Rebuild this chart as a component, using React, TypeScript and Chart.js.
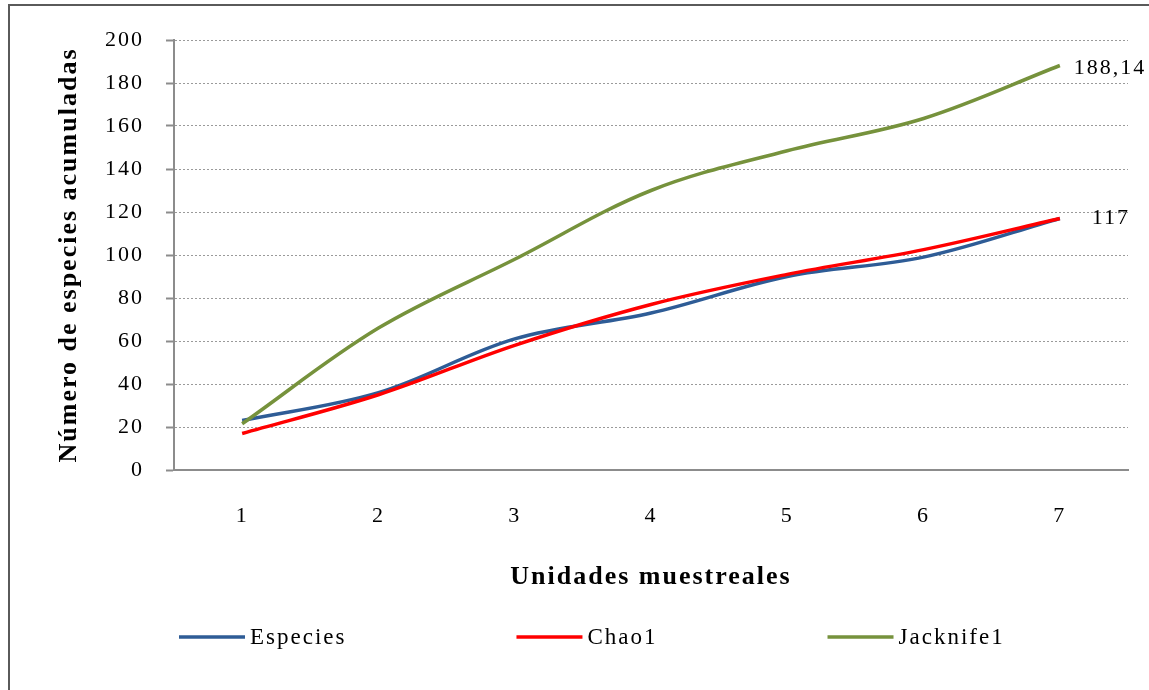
import React, { useEffect, useRef } from "react";
import { Chart, registerables } from "chart.js";

Chart.register(...registerables);

// ---- data ----
const categories = ["1", "2", "3", "4", "5", "6", "7"];
const especies = [23, 36, 61, 73, 90, 99, 117];
const chao1 = [17, 35, 58, 77, 91, 102.5, 117];
const jacknife1 = [21.5, 66, 98, 130, 148.5, 163.5, 188.14];
const seriesNames = ["Especies", "Chao1", "Jacknife1"];
const showEndLabel = [false, true, true];
const yMin = 0;
const yMax = 200;
const yStep = 20;
const xTitle = "Unidades muestreales";
const yTitle = "Número de especies acumuladas";

const FONT = "'Liberation Serif', 'Times New Roman', serif";
const COLORS = ["#2E5C96", "#FF0000", "#76923C"];

const fmt = (v: number) => String(v).replace(".", ",");

const decorPlugin = {
  id: "decor",
  beforeUpdate(chart: any) {
    chart.ctx.letterSpacing = "2px";
  },
  beforeDraw(chart: any) {
    const ctx = chart.ctx;
    ctx.letterSpacing = "2px";
    ctx.save();
    ctx.fillStyle = "#ffffff";
    ctx.fillRect(0, 0, chart.width, chart.height);
    ctx.strokeStyle = "#5a5a5a";
    ctx.lineWidth = 2;
    ctx.beginPath();
    ctx.moveTo(9, chart.height + 4);
    ctx.lineTo(9, 5);
    ctx.lineTo(chart.width + 4, 5);
    ctx.stroke();
    ctx.restore();
  },
  afterDraw(chart: any) {
    const ctx = chart.ctx;
    ctx.save();
    ctx.letterSpacing = "2px";
    // end-of-line data labels
    ctx.font = `22px ${FONT}`;
    ctx.fillStyle = "#000";
    ctx.textBaseline = "middle";
    ctx.textAlign = "left";
    const offsets = [
      [14, 2],
      [32, 0],
      [14, 3],
    ];
    chart.data.datasets.forEach((ds: any, i: number) => {
      if (!showEndLabel[i]) return;
      const meta = chart.getDatasetMeta(i);
      const last = meta.data[meta.data.length - 1];
      const v = ds.data[ds.data.length - 1];
      ctx.fillText(fmt(v), last.x + offsets[i][0], last.y + offsets[i][1]);
    });
    // legend
    ctx.font = `23px ${FONT}`;
    let x = 179;
    const y = 637;
    chart.data.datasets.forEach((ds: any) => {
      ctx.strokeStyle = ds.borderColor;
      ctx.lineWidth = 3.5;
      ctx.beginPath();
      ctx.moveTo(x, y);
      ctx.lineTo(x + 66, y);
      ctx.stroke();
      ctx.fillStyle = "#000";
      ctx.fillText(ds.label, x + 71, y + 1);
      x += 71 + ctx.measureText(ds.label).width + 170;
    });
    ctx.restore();
  },
};

export default function App() {
  const canvasRef = useRef<HTMLCanvasElement | null>(null);

  useEffect(() => {
    if (!canvasRef.current) return;
    const seriesData = [especies, chao1, jacknife1];
    const chart = new Chart(canvasRef.current, {
      type: "line",
      data: {
        labels: categories,
        datasets: seriesData.map((d, i) => ({
          label: seriesNames[i],
          data: d,
          borderColor: COLORS[i],
          backgroundColor: COLORS[i],
          borderWidth: 3.5,
          pointRadius: 0,
          pointHoverRadius: 0,
          tension: 0.35,
          fill: false,
          order: 3 - i,
        })),
      },
      options: {
        responsive: false,
        animation: false,
        events: [],
        layout: { padding: { left: 0, top: 40, right: 21, bottom: 90 } },
        plugins: {
          legend: { display: false },
          tooltip: { enabled: false },
          title: { display: false },
        },
        scales: {
          x: {
            offset: true,
            afterFit: (s: any) => {
              s.height = 130;
            },
            grid: { display: false, drawTicks: false },
            border: { display: true, color: "#8c8c8c", width: 2 },
            ticks: {
              padding: 33,
              color: "#000",
              font: { family: FONT, size: 22 },
              maxRotation: 0,
            },
            title: {
              display: true,
              text: xTitle,
              color: "#000",
              font: { family: FONT, size: 26, weight: "bold" },
              padding: { top: 0, bottom: 7 },
            },
          },
          y: {
            min: yMin,
            max: yMax,
            afterFit: (s: any) => {
              s.width = 174;
            },
            grid: {
              color: "#9a9a9a",
              lineWidth: 1,
              drawTicks: true,
              tickLength: 8,
              tickColor: "#8c8c8c",
              tickWidth: 2,
            },
            border: { display: true, color: "#8c8c8c", width: 2, dash: [2, 2] },
            ticks: {
              stepSize: yStep,
              padding: 22,
              color: "#000",
              font: { family: FONT, size: 22 },
            },
            title: {
              display: true,
              text: yTitle,
              color: "#000",
              font: { family: FONT, size: 26, weight: "bold" },
              padding: { top: 54, bottom: 0 },
            },
          },
        },
      },
      plugins: [decorPlugin],
    } as any);
    return () => chart.destroy();
  }, []);

  return (
    <div style={{ position: "absolute", left: 0, top: 0, width: 1149, height: 690 }}>
      <canvas ref={canvasRef} width={1149} height={690} style={{ display: "block" }} />
    </div>
  );
}
